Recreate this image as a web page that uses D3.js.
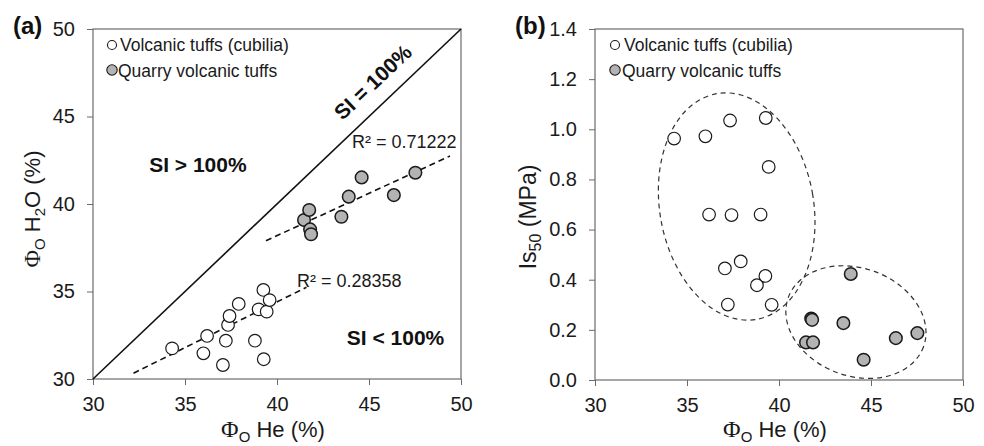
<!DOCTYPE html>
<html>
<head>
<meta charset="utf-8">
<script src="https://cdn.jsdelivr.net/npm/d3@7"></script>
<style>
  body { margin: 0; background: #fff; }
  svg { display: block; font-family: "Liberation Sans", Arial, sans-serif; }
  .axis text { font-size: 20px; fill: #1a1a1a; }
  .axis line { stroke: #6b6b6b; }
  .axis path { display: none; }
</style>
</head>
<body>
<svg id="chart" width="984" height="446"></svg>
<script>
// porosity to helium (shared x of both panels)
const heCub = [34.3, 36.0, 36.2, 37.06, 37.22, 37.34, 37.42, 37.92, 38.8, 39.0, 39.26, 39.28, 39.44, 39.6];
const h2oCub = [31.75, 31.47, 32.46, 30.8, 32.19, 33.09, 33.6, 34.29, 32.19, 33.98, 35.09, 31.13, 33.85, 34.51];
const is50Cub = [0.963, 0.972, 0.66, 0.445, 0.301, 1.035, 0.658, 0.473, 0.378, 0.66, 0.415, 1.045, 0.85, 0.30];

const heQua = [41.47, 41.75, 41.8, 41.85, 43.5, 43.9, 44.6, 46.35, 47.52];
const h2oQua = [39.09, 39.66, 38.55, 38.27, 39.27, 40.42, 41.52, 40.51, 41.79];
const is50Qua = [0.15, 0.245, 0.24, 0.15, 0.227, 0.423, 0.081, 0.167, 0.187];

// trend lines (end points) and R2 values
const trendCub = [[32.2, 30.33], [41.6, 35.24]];
const trendQua = [[39.4, 37.9], [49.4, 42.74]];
const r2Labels = ["R\u00b2 = 0.71222", "R\u00b2 = 0.28358"];

// group ellipses in (b): centre, half axes in data units, tilt in degrees
const ellipses = [
    {cx: 37.7, cy: 0.692, rx: 4.18, ry: 0.457, angle: -10},
    {cx: 44.18, cy: 0.231, rx: 3.91, ry: 0.215, angle: 20}
];

const xTicks = [30, 35, 40, 45, 50];
const yTicksA = [30, 35, 40, 45, 50];
const yTicksB = [0, 0.2, 0.4, 0.6, 0.8, 1.0, 1.2, 1.4];
const legendNames = ["Volcanic tuffs (cubilia)", "Quarry volcanic tuffs"];

const svg = d3.select("#chart");
const grey = "#b3b3b3";
const serif = "'Liberation Serif', 'Times New Roman', serif";

function drawPanel(opt) {
    const x = d3.scaleLinear().domain([30, 50]).range([opt.left, opt.right]);
    const y = d3.scaleLinear().domain(opt.yDomain).range([opt.bottom, opt.top]);
    const g = svg.append("g");

    g.append("g").attr("class", "axis")
        .attr("transform", `translate(0,${opt.bottom})`)
        .call(d3.axisBottom(x).tickValues(xTicks).tickSize(6).tickPadding(12).tickSizeOuter(0));
    g.append("g").attr("class", "axis")
        .attr("transform", `translate(${opt.left},0)`)
        .call(d3.axisLeft(y).tickValues(opt.yTicks).tickFormat(opt.yFormat)
            .tickSize(6).tickPadding(12).tickSizeOuter(0));

    // plot frame
    g.append("rect")
        .attr("x", opt.left).attr("y", opt.top)
        .attr("width", opt.right - opt.left).attr("height", opt.bottom - opt.top)
        .attr("fill", "none").attr("stroke", "#6b6b6b").attr("stroke-width", 1.2);

    // panel letter
    g.append("text").attr("x", opt.left - 80).attr("y", 34)
        .attr("font-size", 24).attr("font-weight", "bold").attr("fill", "#111")
        .text(opt.letter);

    // x title: PhiO He (%)
    const xt = g.append("text")
        .attr("x", (opt.left + opt.right) / 2 - 4).attr("y", 437)
        .attr("text-anchor", "middle").attr("font-size", 22).attr("fill", "#1a1a1a");
    xt.append("tspan").attr("font-family", serif).attr("font-size", 24).text("\u03a6");
    xt.append("tspan").attr("font-size", 15).attr("dy", 5).text("O");
    xt.append("tspan").attr("dy", -5).text(" He (%)");

    return {g, x, y};
}

function drawPoints(p, xs, ys, filled) {
    p.g.append("g").selectAll("circle")
        .data(xs.map((d, i) => [d, ys[i]]))
        .join("circle")
        .attr("cx", d => p.x(d[0]))
        .attr("cy", d => p.y(d[1]))
        .attr("r", 6.3)
        .attr("fill", filled ? grey : "#fff")
        .attr("stroke", "#1a1a1a")
        .attr("stroke-width", filled ? 1.5 : 1.2);
}

function drawLegend(p, cx, tx) {
    const rows = [
        {name: legendNames[0], fill: "#fff", r: 4.5, y: 45, base: 51},
        {name: legendNames[1], fill: grey, r: 5.2, y: 70, base: 77}
    ];
    rows.forEach((d, i) => {
        p.g.append("circle").attr("cx", cx).attr("cy", d.y).attr("r", d.r)
            .attr("fill", d.fill).attr("stroke", "#1a1a1a").attr("stroke-width", 1.1);
        p.g.append("text").attr("x", tx - (i ? 2 : 0)).attr("y", d.base)
            .attr("font-size", 17.5).attr("fill", "#1a1a1a").text(d.name);
    });
}

// ---------- panel (a) ----------
const pa = drawPanel({
    left: 93, right: 461, top: 29, bottom: 379,
    yDomain: [30, 50], yTicks: yTicksA, yFormat: d3.format("d"), letter: "(a)"
});

// SI = 100 % line
pa.g.append("line")
    .attr("x1", pa.x(30)).attr("y1", pa.y(30))
    .attr("x2", pa.x(50)).attr("y2", pa.y(50))
    .attr("stroke", "#111").attr("stroke-width", 1.6);

[trendCub, trendQua].forEach(t => {
    pa.g.append("path")
        .attr("d", d3.line().x(d => pa.x(d[0])).y(d => pa.y(d[1]))(t))
        .attr("fill", "none").attr("stroke", "#111")
        .attr("stroke-width", 1.6).attr("stroke-dasharray", "6,4");
});

drawPoints(pa, heCub, h2oCub, false);
drawPoints(pa, heQua, h2oQua, true);
drawLegend(pa, 112, 120);

pa.g.append("text").attr("x", pa.x(44.08)).attr("y", pa.y(43.2))
    .attr("font-size", 18).attr("fill", "#1a1a1a").text(r2Labels[0]);
pa.g.append("text").attr("x", pa.x(41.09)).attr("y", pa.y(35.26))
    .attr("font-size", 18).attr("fill", "#1a1a1a").text(r2Labels[1]);

// SI region labels
const angle = Math.atan2(pa.y(50) - pa.y(30), pa.x(50) - pa.x(30)) * 180 / Math.PI;
pa.g.append("text")
    .attr("transform", `translate(${pa.x(45.2)},${pa.y(46.97)}) rotate(${angle})`)
    .attr("text-anchor", "middle").attr("dominant-baseline", "central")
    .attr("font-size", 21).attr("font-weight", "bold").attr("fill", "#111")
    .text("SI = 100%");
pa.g.append("text").attr("x", pa.x(35.7)).attr("y", pa.y(41.83))
    .attr("text-anchor", "middle").attr("font-size", 21).attr("font-weight", "bold")
    .attr("fill", "#111").text("SI > 100%");
pa.g.append("text").attr("x", pa.x(46.44)).attr("y", pa.y(31.94))
    .attr("text-anchor", "middle").attr("font-size", 21).attr("font-weight", "bold")
    .attr("fill", "#111").text("SI < 100%");

// y title: PhiO H2O (%)
const yta = pa.g.append("text")
    .attr("transform", "translate(40,209) rotate(-90)")
    .attr("text-anchor", "middle").attr("font-size", 22).attr("fill", "#1a1a1a");
yta.append("tspan").attr("font-family", serif).attr("font-size", 24).text("\u03a6");
yta.append("tspan").attr("font-size", 15).attr("dy", 5).text("O");
yta.append("tspan").attr("dy", -5).text(" H");
yta.append("tspan").attr("font-size", 15).attr("dy", 5).text("2");
yta.append("tspan").attr("dy", -5).text("O (%)");

// ---------- panel (b) ----------
const pb = drawPanel({
    left: 595, right: 963, top: 29, bottom: 380,
    yDomain: [0, 1.4], yTicks: yTicksB, yFormat: d3.format(".1f"), letter: "(b)"
});

ellipses.forEach(e => {
    pb.g.append("ellipse")
        .attr("transform", `translate(${pb.x(e.cx)},${pb.y(e.cy)}) rotate(${e.angle})`)
        .attr("rx", pb.x(e.cx + e.rx) - pb.x(e.cx))
        .attr("ry", pb.y(0) - pb.y(e.ry))
        .attr("fill", "none").attr("stroke", "#333")
        .attr("stroke-width", 1.2).attr("stroke-dasharray", "5,4");
});

drawPoints(pb, heCub, is50Cub, false);
drawPoints(pb, heQua, is50Qua, true);
drawLegend(pb, 615, 624);

// y title: Is50 (MPa)
const ytb = pb.g.append("text")
    .attr("transform", "translate(536,217) rotate(-90)")
    .attr("text-anchor", "middle").attr("font-size", 23).attr("fill", "#1a1a1a");
ytb.append("tspan").text("Is");
ytb.append("tspan").attr("font-size", 16).attr("dy", 5).text("50");
ytb.append("tspan").attr("dy", -5).text(" (MPa)");
</script>
</body>
</html>
